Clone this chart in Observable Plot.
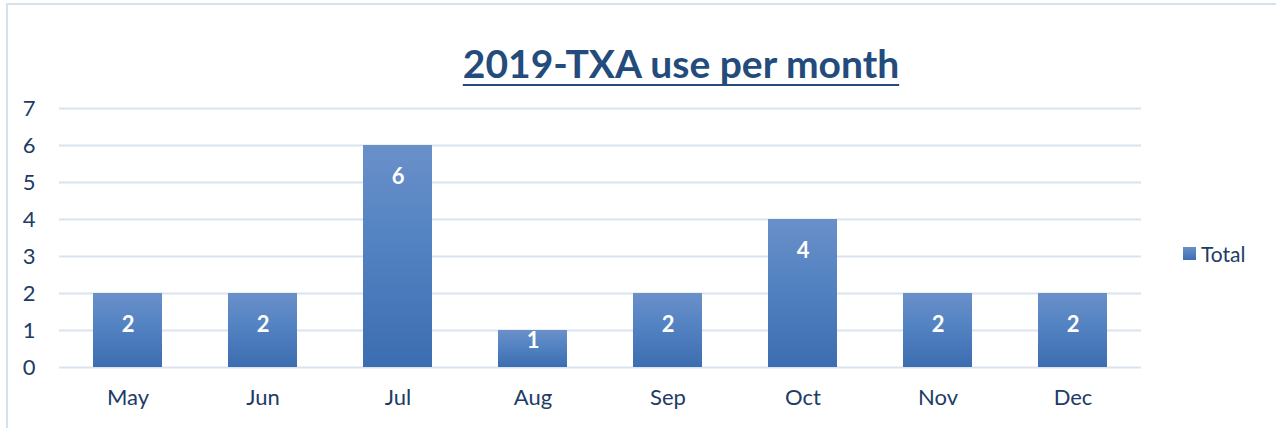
<!DOCTYPE html>
<html>
<head>
<meta charset="utf-8">
<script src="https://cdn.jsdelivr.net/npm/d3@7"></script>
<script src="https://cdn.jsdelivr.net/npm/@observablehq/plot@0.6"></script>
<style>
  html, body { margin: 0; padding: 0; background: #fff; }
  #wrap { position: relative; width: 1276px; height: 428px; overflow: hidden; font-family: Lato, "Open Sans", sans-serif; }
  #frame { position: absolute; left: 6px; top: 3px; right: 0; bottom: -10px; border-left: 2px solid #d6e1f0; border-top: 2px solid #d6e1f0; pointer-events: none; }
  #title { position: absolute; left: 0; width: 1362px; top: 40px; text-align: center; font-size: 39px; font-weight: bold; color: #234b7c; text-decoration: underline; text-decoration-thickness: 2px; text-underline-offset: 6px; text-decoration-skip-ink: none; }
  #legend { position: absolute; left: 1183px; top: 241px; display: flex; align-items: center; font-size: 21px; color: #203c66; }
  #legend .sw { width: 13px; height: 13px; background: linear-gradient(#6a90c8, #3d6fb1); margin-right: 5px; }
  #chart { position: absolute; left: 0; top: 0; }
</style>
</head>
<body>
<div id="wrap">
  <div id="chart"></div>
  <div id="frame"></div>
  <div id="title">2019-TXA use per month</div>
  <div id="legend"><div class="sw"></div><span>Total</span></div>
</div>
<script>
const months = ["May", "Jun", "Jul", "Aug", "Sep", "Oct", "Nov", "Dec"];
const totals = [2, 2, 6, 1, 2, 4, 2, 2];
const yTicks = [0, 1, 2, 3, 4, 5, 6, 7];
const seriesName = "Total";

const data = months.map((m, i) => ({month: m, value: totals[i]}));

const chart = Plot.plot({
  width: 1276,
  height: 428,
  marginLeft: 59,
  marginRight: 135,
  marginTop: 108,
  marginBottom: 61,
  style: {fontFamily: "Lato, 'Open Sans', sans-serif", background: "transparent"},
  x: {domain: months, paddingInner: 0.49, paddingOuter: 0.245, label: null},
  y: {domain: [0, 7], label: null},
  marks: [
    Plot.ruleY(yTicks, {stroke: "#d9e3f2", strokeWidth: 2}),
    Plot.barY(data, {x: "month", y: "value", fill: "url(#barGrad)"}),
    Plot.axisX({tickSize: 0, tickPadding: 22, fontSize: 22, fill: "#203c66", fontWeight: "normal", label: null}),
    Plot.axisY({ticks: yTicks, tickFormat: "d", tickSize: 0, tickPadding: 24, fontSize: 22, fill: "#203c66", label: null}),
    Plot.text(data.filter(d => d.value >= 2), {x: "month", y: "value", text: d => String(d.value), dy: 31, fill: "white", fontSize: 22, fontWeight: "bold"}),
    Plot.text(data.filter(d => d.value < 2), {x: "month", y: "value", text: d => String(d.value), dy: 10, fill: "white", fontSize: 22, fontWeight: "bold"})
  ]
});

const svg = d3.select(chart);
const defs = svg.insert("defs", ":first-child");
const grad = defs.append("linearGradient").attr("id", "barGrad").attr("x1", 0).attr("y1", 0).attr("x2", 0).attr("y2", 1);
grad.append("stop").attr("offset", "0%").attr("stop-color", "#6a90c8");
grad.append("stop").attr("offset", "40%").attr("stop-color", "#5584c3");
grad.append("stop").attr("offset", "100%").attr("stop-color", "#3c6db0");

document.getElementById("chart").appendChild(chart);
</script>
</body>
</html>
